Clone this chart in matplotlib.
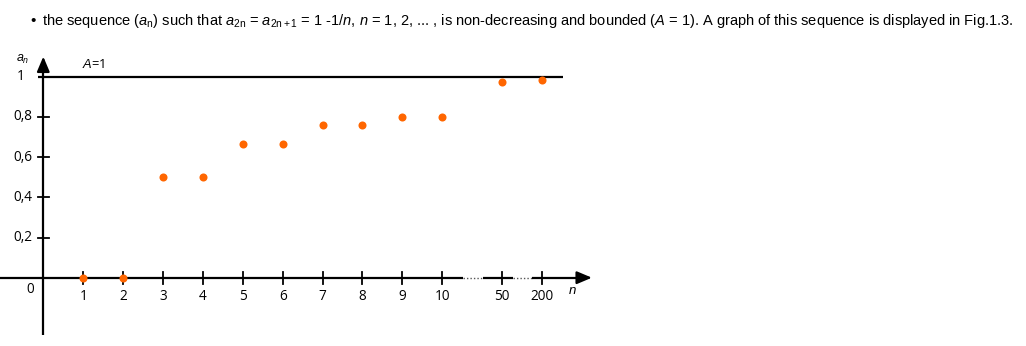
import matplotlib
matplotlib.use("Agg")
import matplotlib.pyplot as plt

# Sequence values a_n shown on the graph
n_labels = ["1", "2", "3", "4", "5", "6", "7", "8", "9", "10", "50", "200"]
a_values = [0.0, 0.0, 0.5, 0.5, 0.667, 0.667, 0.76, 0.76, 0.8, 0.8, 0.972, 0.982]
y_ticks = [0.2, 0.4, 0.6, 0.8]
y_tick_labels = ["0,2", "0,4", "0,6", "0,8"]
bound = 1.0

# Slot of each n along the (broken) horizontal axis
slots = list(range(1, 11)) + [11.5, 12.5]

plt.rcParams['mathtext.fontset'] = 'custom'
plt.rcParams['mathtext.rm'] = 'Liberation Sans'
plt.rcParams['mathtext.it'] = 'Liberation Sans:italic'

fig = plt.figure(figsize=(10.26, 3.46), dpi=100)
ax = fig.add_axes([0, 0, 1, 1])
ax.set_xlim(-1.085, 24.63)
ax.set_ylim(-0.3398, 1.3816)
ax.axis("off")

black = "black"
lw = 1.6
chart_font = "Open Sans"
label_size = 9.8

# Vertical axis with arrow
ax.plot([0, 0], [-0.285, 1.04], color=black, lw=lw, solid_capstyle="butt")
ax.annotate("", xy=(0, 1.10), xytext=(0, 1.03),
            arrowprops=dict(arrowstyle="-|>,head_length=0.9,head_width=0.38",
                            color=black, lw=lw, shrinkA=0, shrinkB=0))

# Horizontal axis: solid pieces with dotted breaks
ax.plot([-1.085, 10.52], [0, 0], color=black, lw=lw, solid_capstyle="butt")
ax.plot([10.52, 11.02], [0, 0], color="#555555", lw=1.0, ls=(0, (1, 1.5)))
ax.plot([11.02, 11.77], [0, 0], color=black, lw=lw, solid_capstyle="butt")
ax.plot([11.77, 12.25], [0, 0], color="#555555", lw=1.0, ls=(0, (1, 1.5)))
ax.plot([12.25, 13.5], [0, 0], color=black, lw=lw, solid_capstyle="butt")
ax.annotate("", xy=(13.75, 0), xytext=(13.4, 0),
            arrowprops=dict(arrowstyle="-|>,head_length=0.9,head_width=0.38",
                            color=black, lw=lw, shrinkA=0, shrinkB=0))

# Upper bound line
ax.plot([-0.133, 13.03], [bound, bound], color=black, lw=lw, solid_capstyle="butt")
ax.text(1.27, 1.06, "$\\mathit{A}$=1", fontsize=9.3, ha="center", va="center",
        family=chart_font)

# Tick marks and labels on the horizontal axis
for s, lab in zip(slots, n_labels):
    ax.plot([s, s], [-0.029, 0.028], color=black, lw=1.3)
    ax.text(s, -0.095, lab, fontsize=label_size, ha="center", va="center",
            family=chart_font)

# Tick marks and labels on the vertical axis
for v, lab in zip(y_ticks, y_tick_labels):
    ax.plot([-0.133, 0.143], [v, v], color=black, lw=1.3)
    ax.text(-0.27, v, lab, fontsize=label_size, ha="right", va="center",
            family=chart_font)
ax.text(-0.56, bound, "1", fontsize=label_size, ha="center", va="center",
        family=chart_font)
ax.text(-0.33, -0.06, "0", fontsize=label_size, ha="center", va="center",
        family=chart_font)

# Axis names
ax.text(-0.52, 1.085, "$\\mathit{a}_\\mathit{n}$", fontsize=9, ha="center", va="center",
        family=chart_font)
ax.text(13.27, -0.065, "$\\mathit{n}$", fontsize=9.5, ha="center", va="center",
        family=chart_font)

# Sequence points
ax.plot(slots, a_values, "o", color="#FF6600", ms=5.8, mec="none", zorder=5)

# Sentence above the graph
fig.text(30 / 1026, 1 - 21 / 346, "\u2022", fontsize=11, ha="left", va="center",
         family="Liberation Sans")
sentence = ("the sequence ($\\mathit{a}_\\mathrm{n}$) such that "
            "$\\mathit{a}_\\mathrm{2n}$ = $\\mathit{a}_\\mathrm{2n+1}$ = 1 -1/$\\mathit{n}$, "
            "$\\mathit{n}$ = 1, 2, ... , is non-decreasing and bounded ($\\mathit{A}$ = 1). "
            "A graph of this sequence is displayed in Fig.1.3.")
fig.text(42 / 1026, 1 - 21 / 346, sentence, fontsize=10.5, ha="left", va="center",
         family="Liberation Sans")

fig.savefig("out.png", dpi=100)
